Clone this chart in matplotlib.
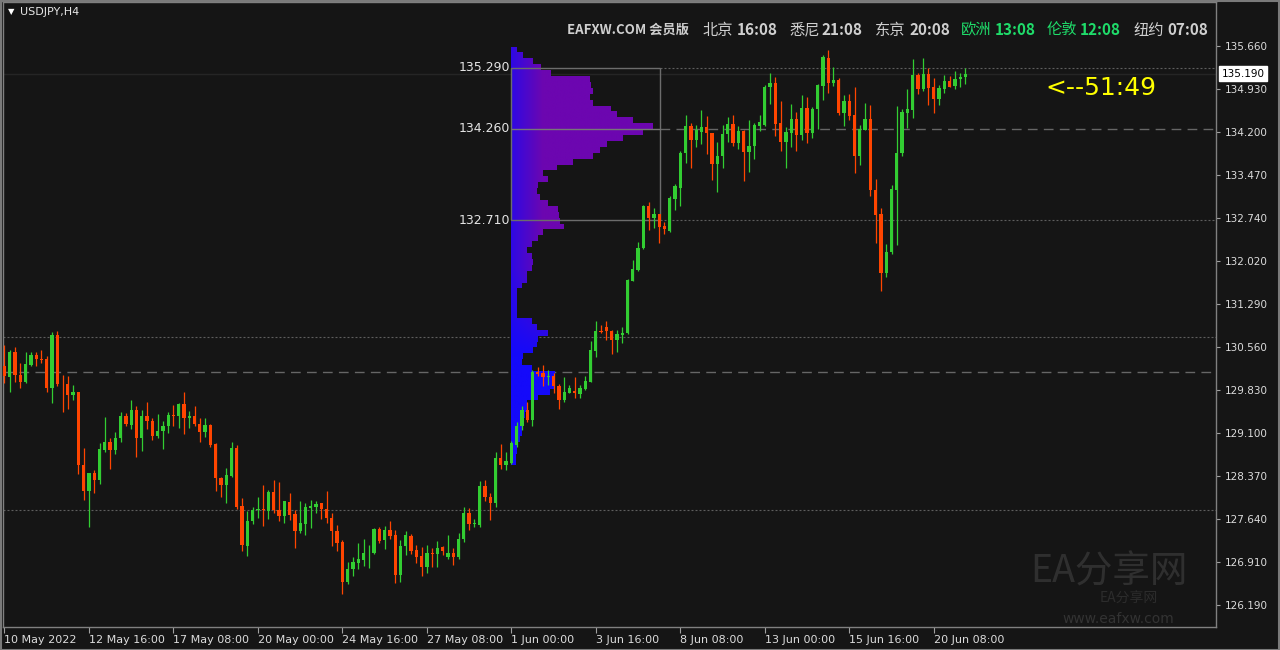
import numpy as np
import matplotlib
matplotlib.use("Agg")
import matplotlib.pyplot as plt
from matplotlib.patches import Rectangle, PathPatch
from matplotlib.path import Path

# USDJPY H4 candles, 10 May 2022 00:00 -> 21 Jun 2022 08:00 (one bar every 4h, no weekends)
opens = [130.23, 130.05, 130.48, 130.08, 129.97, 130.25, 130.42, 130.35, 130.35, 129.86,
         130.76, 129.95, 129.93, 129.75, 129.80, 128.55, 128.12, 128.42, 128.31, 128.81,
         128.95, 128.81, 129.01, 129.38, 129.24, 129.49, 129.02, 129.39, 129.31, 129.04,
         129.13, 129.21, 129.41, 129.38, 129.59, 129.36, 129.38, 129.25, 129.11, 129.24,
         128.91, 128.34, 128.21, 128.37, 128.85, 127.86, 127.19, 127.60, 127.79, 127.81,
         127.78, 128.10, 127.80, 127.70, 127.93, 127.72, 127.43, 127.56, 127.83, 127.85,
         127.91, 127.81, 127.66, 127.44, 127.25, 126.57, 126.79, 126.90, 126.95, 127.06,
         127.06, 127.47, 127.29, 127.46, 127.37, 126.69, 127.18, 127.36, 127.12, 127.02,
         126.82, 127.07, 127.04, 127.16, 127.00, 127.07, 127.00, 127.30, 127.75, 127.55,
         127.54, 128.20, 128.02, 127.92, 128.67, 128.55, 128.59, 128.90, 129.21, 129.49,
         129.32, 130.14, 130.11, 130.05, 130.07, 129.90, 129.65, 129.78, 129.81, 129.76,
         129.85, 129.97, 130.49, 130.83, 130.90, 130.83, 130.67, 130.76, 130.79, 131.68,
         131.86, 132.23, 132.95, 132.74, 132.81, 132.60, 132.53, 133.07, 133.25, 133.84,
         134.30, 134.06, 134.21, 134.28, 134.18, 133.66, 133.79, 134.16, 134.34, 134.01,
         134.22, 133.87, 133.96, 134.31, 134.32, 134.96, 135.03, 134.35, 134.04, 134.19,
         134.42, 134.15, 134.61, 134.19, 134.59, 134.99, 135.45, 135.03, 135.08, 134.53,
         134.72, 134.49, 133.79, 134.24, 134.42, 133.22, 132.81, 131.82, 132.16, 133.22,
         133.84, 134.53, 134.58, 135.16, 134.93, 135.19, 134.96, 134.76, 134.93, 135.07,
         134.98, 135.10, 135.14]
highs = [130.59, 130.51, 130.56, 130.29, 130.47, 130.47, 130.47, 130.50, 130.41, 130.81,
         130.82, 130.08, 130.07, 129.91, 129.80, 128.84, 128.42, 128.47, 128.93, 129.37,
         129.01, 129.12, 129.46, 129.44, 129.65, 129.56, 129.49, 129.63, 129.35, 129.42,
         129.30, 129.45, 129.58, 129.60, 129.79, 129.48, 129.55, 129.36, 129.36, 129.25,
         128.93, 128.36, 128.50, 128.95, 128.90, 127.99, 127.77, 127.85, 128.01, 128.22,
         128.14, 128.30, 128.26, 127.95, 128.08, 127.80, 127.94, 127.91, 127.97, 127.95,
         127.92, 128.11, 127.75, 127.54, 127.29, 126.92, 126.99, 127.23, 127.30, 127.20,
         127.49, 127.51, 127.52, 127.60, 127.46, 127.29, 127.43, 127.38, 127.20, 127.17,
         127.20, 127.15, 127.26, 127.19, 127.37, 127.15, 127.40, 127.84, 127.82, 127.64,
         128.28, 128.30, 128.09, 128.78, 128.91, 128.78, 128.97, 129.28, 129.56, 129.63,
         130.16, 130.21, 130.25, 130.16, 130.11, 129.93, 130.05, 129.91, 130.05, 129.91,
         130.07, 130.66, 131.00, 130.93, 131.00, 130.85, 130.85, 130.89, 131.71, 132.03,
         132.34, 132.97, 133.02, 132.91, 132.82, 132.68, 133.12, 133.32, 133.88, 134.49,
         134.36, 134.32, 134.58, 134.48, 134.19, 134.03, 134.32, 134.46, 134.49, 134.30,
         134.24, 134.41, 134.35, 134.49, 135.00, 135.21, 135.14, 134.72, 134.29, 134.68,
         134.54, 134.83, 134.79, 134.62, 135.02, 135.50, 135.60, 135.31, 135.12, 134.83,
         134.85, 134.97, 134.32, 134.69, 134.66, 133.40, 132.91, 132.30, 133.30, 134.65,
         134.60, 134.93, 135.44, 135.20, 135.46, 135.29, 135.12, 135.00, 135.17, 135.15,
         135.24, 135.21, 135.29]
lows = [129.94, 129.80, 129.97, 129.86, 129.94, 130.23, 130.24, 130.29, 129.80, 129.60,
        129.90, 129.45, 129.50, 129.66, 128.41, 127.97, 127.51, 128.08, 128.24, 128.78,
        128.49, 128.75, 128.94, 129.21, 129.17, 128.70, 128.80, 129.17, 128.98, 129.01,
        128.83, 129.10, 129.21, 129.18, 129.08, 129.19, 129.22, 128.94, 129.03, 128.87,
        128.12, 128.02, 127.91, 128.36, 127.81, 127.09, 127.02, 127.56, 127.66, 127.53,
        127.64, 127.74, 127.61, 127.58, 127.63, 127.15, 127.40, 127.37, 127.49, 127.75,
        127.64, 127.57, 127.19, 127.09, 126.37, 126.54, 126.67, 126.80, 126.84, 126.81,
        127.05, 127.23, 127.13, 127.30, 126.56, 126.58, 127.03, 127.05, 126.90, 126.68,
        126.73, 126.82, 126.82, 127.03, 126.96, 126.86, 126.96, 127.25, 127.45, 127.50,
        127.51, 127.94, 127.63, 127.85, 128.49, 128.47, 128.58, 128.87, 129.15, 129.29,
        129.21, 130.07, 129.89, 129.91, 129.78, 129.51, 129.63, 129.77, 129.70, 129.69,
        129.83, 129.96, 130.39, 130.80, 130.68, 130.44, 130.48, 130.62, 130.78, 131.67,
        131.85, 132.22, 132.54, 132.57, 132.32, 132.47, 132.51, 132.88, 132.95, 133.67,
        133.60, 133.95, 134.00, 133.83, 133.38, 133.19, 133.60, 134.04, 133.97, 133.91,
        133.37, 133.52, 133.75, 134.22, 134.30, 134.68, 134.14, 133.88, 133.60, 133.94,
        133.88, 134.07, 134.02, 134.10, 134.25, 134.75, 134.87, 134.99, 134.49, 134.30,
        134.41, 133.51, 133.64, 134.23, 133.12, 132.32, 131.50, 131.75, 132.14, 132.29,
        133.79, 134.27, 134.44, 134.85, 134.90, 134.66, 134.53, 134.66, 134.87, 134.96,
        134.93, 134.97, 135.02]
closes = [130.06, 130.48, 130.08, 129.97, 130.27, 130.42, 130.35, 130.34, 129.86, 130.76,
          129.93, 129.94, 129.75, 129.80, 128.55, 128.12, 128.42, 128.30, 128.83, 128.95,
          128.81, 129.02, 129.38, 129.25, 129.49, 129.02, 129.39, 129.30, 129.04, 129.14,
          129.21, 129.41, 129.38, 129.59, 129.36, 129.38, 129.25, 129.11, 129.24, 128.90,
          128.34, 128.22, 128.38, 128.85, 127.85, 127.20, 127.61, 127.80, 127.81, 127.79,
          128.10, 127.80, 127.70, 127.94, 127.71, 127.43, 127.58, 127.84, 127.86, 127.90,
          127.81, 127.66, 127.43, 127.24, 126.57, 126.80, 126.91, 126.96, 127.07, 127.07,
          127.47, 127.27, 127.46, 127.36, 126.69, 127.19, 127.37, 127.10, 127.00, 126.82,
          127.06, 127.04, 127.15, 127.10, 127.07, 127.00, 127.30, 127.75, 127.56, 127.58,
          128.20, 128.01, 127.92, 128.68, 128.56, 128.62, 128.93, 129.22, 129.49, 129.32,
          130.14, 130.10, 130.05, 130.06, 129.90, 129.65, 129.79, 129.86, 129.77, 129.86,
          129.98, 130.51, 130.83, 130.81, 130.83, 130.67, 130.77, 130.80, 131.69, 131.88,
          132.24, 132.95, 132.74, 132.81, 132.59, 132.55, 133.08, 133.28, 133.85, 134.30,
          134.06, 134.24, 134.28, 134.18, 133.66, 133.80, 134.17, 134.34, 134.01, 134.22,
          133.87, 133.97, 134.32, 134.38, 134.97, 135.03, 134.34, 134.04, 134.20, 134.42,
          134.15, 134.61, 134.19, 134.59, 135.00, 135.48, 135.03, 135.08, 134.53, 134.72,
          134.48, 133.80, 134.25, 134.42, 133.22, 132.80, 131.82, 132.17, 133.24, 133.85,
          134.54, 134.59, 135.16, 134.93, 135.19, 134.95, 134.76, 134.94, 135.07, 134.97,
          135.10, 135.14, 135.19]

time_ticks = [0, 16, 32, 48, 64, 80, 96, 112, 128, 144, 160, 176]
time_labels = ["10 May 2022", "12 May 16:00", "17 May 08:00", "20 May 00:00", "24 May 16:00",
               "27 May 08:00", "1 Jun 00:00", "3 Jun 16:00", "8 Jun 08:00", "13 Jun 00:00",
               "15 Jun 16:00", "20 Jun 08:00"]
price_ticks = [135.660, 134.930, 134.200, 133.470, 132.740, 132.020, 131.290,
               130.560, 129.830, 129.100, 128.370, 127.640, 126.910, 126.190]

# volume profile since 1 Jun 00:00 (bar 96), 0.1 price bins
prof_prices = [135.6, 135.5, 135.4, 135.3, 135.2, 135.1, 135.0, 134.9, 134.8, 134.7,
               134.6, 134.5, 134.4, 134.3, 134.2, 134.1, 134.0, 133.9, 133.8, 133.7,
               133.6, 133.5, 133.4, 133.3, 133.2, 133.1, 133.0, 132.9, 132.8, 132.7,
               132.6, 132.5, 132.4, 132.3, 132.2, 132.1, 132.0, 131.9, 131.8, 131.7,
               131.6, 131.5, 131.4, 131.3, 131.2, 131.1, 131.0, 130.9, 130.8, 130.7,
               130.6, 130.5, 130.4, 130.3, 130.2, 130.1, 130.0, 129.9, 129.8, 129.7,
               129.6, 129.5, 129.4, 129.3, 129.2, 129.1, 129.0, 128.9, 128.8, 128.7, 128.6]
prof_vol = [6, 12, 22, 30, 40, 79, 80, 82, 79, 82,
            100, 106, 122, 142, 132, 112, 96, 89, 82, 62,
            46, 32, 37, 27, 26, 29, 37, 47, 48, 49,
            53, 32, 27, 21, 16, 21, 22, 21, 16, 16,
            11, 6, 6, 6, 6, 6, 21, 26, 37, 27,
            26, 22, 12, 11, 21, 44, 44, 44, 39, 27,
            16, 16, 14, 12, 11, 11, 9, 6, 6, 5, 5]
prof_start = 96
va_high, poc, va_low = 135.29, 134.26, 132.71
va_end = 124.1
dotted_levels = [130.725, 127.80]
dashed_levels = [130.13]
last_price = 135.19

BG = "#151515"
GREEN = "#32cd32"
RED = "#ff4500"
GRID = "#5e5e5e"

plt.rcParams["font.family"] = ["DejaVu Sans"]
CJK = ["Noto Sans CJK SC", "DejaVu Sans"]

fig = plt.figure(figsize=(12.8, 6.5), dpi=100, facecolor=BG)
ax = fig.add_axes([3 / 1280, 23 / 650, 1213 / 1280, 625 / 650], facecolor=BG)

# ---- volume profile (gradient fill clipped to the histogram outline) ----
x0 = prof_start - 0.07
wmax = 26.9
widths = np.array(prof_vol) / max(prof_vol) * wmax
verts, codes = [], []
for p, w in zip(prof_prices, widths):
    y0, y1 = p - 0.05, p + 0.05
    verts += [(x0, y0), (x0 + w, y0), (x0 + w, y1), (x0, y1), (x0, y0)]
    codes += [Path.MOVETO, Path.LINETO, Path.LINETO, Path.LINETO, Path.CLOSEPOLY]
clip = PathPatch(Path(verts, codes), transform=ax.transData, facecolor="none", edgecolor="none")
ax.add_patch(clip)

pmin, pmax = min(prof_prices) - 0.05, max(prof_prices) + 0.05
gx = np.linspace(0, wmax, 240)
gy = np.linspace(pmin, pmax, 400)
GX, GY = np.meshgrid(gx, gy)
off_px = GX * 5.28
s = np.clip((GY - 130.4) / 1.5, 0, 1)
t = np.clip(s * (0.3 + off_px / 45), 0, 1)
blue = np.array([20, 10, 250]) / 255
purple = np.array([108, 6, 176]) / 255
img = blue + t[..., None] * (purple - blue)
im = ax.imshow(img, extent=[x0, x0 + wmax, pmin, pmax], origin="lower",
               aspect="auto", interpolation="bilinear", zorder=1)
im.set_clip_path(clip)

# value area box + POC
ax.add_patch(Rectangle((x0, va_low), va_end - x0, va_high - va_low, fill=False,
                       edgecolor="#6c6c6c", lw=1, zorder=2))
ax.hlines(poc, x0, va_end, color="#777777", lw=1, zorder=2)
for lvl, txt in [(va_high, "135.290"), (poc, "134.260"), (va_low, "132.710")]:
    ax.text(x0 - 0.2, lvl, txt, ha="right", va="center", color="#e4e4e4", fontsize=9, zorder=5)

# horizontal levels
xr = 229.45
ax.axhline(last_price, color="#252525", lw=1, zorder=0.5)
ax.hlines([va_high, va_low], va_end, xr, color=GRID, lw=0.8, linestyle=(0, (1.8, 1.8)), zorder=0.6)
ax.hlines(poc, va_end, xr, color="#666666", lw=1, linestyle=(0, (7, 4.5)), zorder=0.6)
for lvl in dotted_levels:
    ax.axhline(lvl, color=GRID, lw=0.8, linestyle=(0, (1.8, 1.8)), zorder=0.6)
for lvl in dashed_levels:
    ax.axhline(lvl, color="#666666", lw=1, linestyle=(0, (7, 4.5)), zorder=0.6)

# ---- candles ----
o, h, l, c = (np.array(v) for v in (opens, highs, lows, closes))
x = np.arange(len(o))
col = np.where(c >= o, GREEN, RED)
ax.vlines(x, l, h, colors=col, lw=0.9, zorder=3)
body_h = np.maximum(np.abs(c - o), 0.012)
ax.bar(x, body_h, bottom=np.minimum(o, c), width=0.62, color=col, linewidth=0, zorder=4)

ax.set_xlim(-0.28, xr)
ax.set_ylim(125.81, 136.406)

# axes styling
for sp in ax.spines.values():
    sp.set_color("#808080")
    sp.set_linewidth(1)
ax.yaxis.tick_right()
ax.set_yticks(price_ticks)
ax.set_yticklabels([f"{v:.3f}" for v in price_ticks])
ax.tick_params(axis="y", direction="out", length=3, width=0.8, color="#a0a0a0",
               labelcolor="#dcdcdc", labelsize=7.5, pad=3)
ax.set_xticks(time_ticks)
ax.set_xticklabels(time_labels, ha="left")
ax.tick_params(axis="x", direction="out", length=4, width=0.8, color="#a0a0a0",
               labelcolor="#dcdcdc", labelsize=8, pad=2)

# current price tag
ax.text(1.0045, last_price, "135.190", transform=ax.get_yaxis_transform(), ha="left",
        va="center", fontsize=7.5, color="black", zorder=6, clip_on=False,
        bbox=dict(boxstyle="square,pad=0.22", facecolor="white", edgecolor="white"))

# ---- header texts ----
def ftext(px, py, s, **kw):
    fig.text(px / 1280, 1 - py / 650, s, va="center", **kw)

ftext(8, 12, "\u25bc", fontsize=6, color="white")
ftext(20, 12, "USDJPY,H4", fontsize=8, color="#e6e6e6")

grey, green = "#cfcfcf", "#1fdc6a"
ftext(689, 30, "EAFXW.COM 会员版", fontsize=9.5, color=grey, family=CJK, weight="bold", ha="right")
header = [(703, "北京", 737, "16:08", grey), (789, "悉尼", 822, "21:08", grey),
          (875, "东京", 909, "20:08", grey), (961, "欧洲", 995, "13:08", green),
          (1047, "伦敦", 1080, "12:08", green), (1133, "纽约", 1167, "07:08", grey)]
for cx, city, tx, tm, cc in header:
    ftext(cx, 30, city, fontsize=11, color=cc, family=CJK)
    ftext(tx, 30, tm, fontsize=11, color=cc, family=CJK, weight="bold")

ftext(1045, 88, "<--51:49", fontsize=18, color="#ffff00")

# watermark
ftext(1030, 572, "EA分享网", fontsize=27, color="#333333", family=CJK, alpha=0.9)
ftext(1100, 599, "EA分享网", fontsize=10, color="#2c2c2c", family=CJK)
ftext(1062, 619, "www.eafxw.com", fontsize=10, color="#333333")

# outer frame
fig.add_artist(Rectangle((0.5 / 1280, 0.5 / 650), 1278.5 / 1280, 648.5 / 650, transform=fig.transFigure,
                         fill=False, edgecolor="#7a7a7a", lw=1.5))

fig.savefig("out.png", dpi=100, facecolor=BG)
